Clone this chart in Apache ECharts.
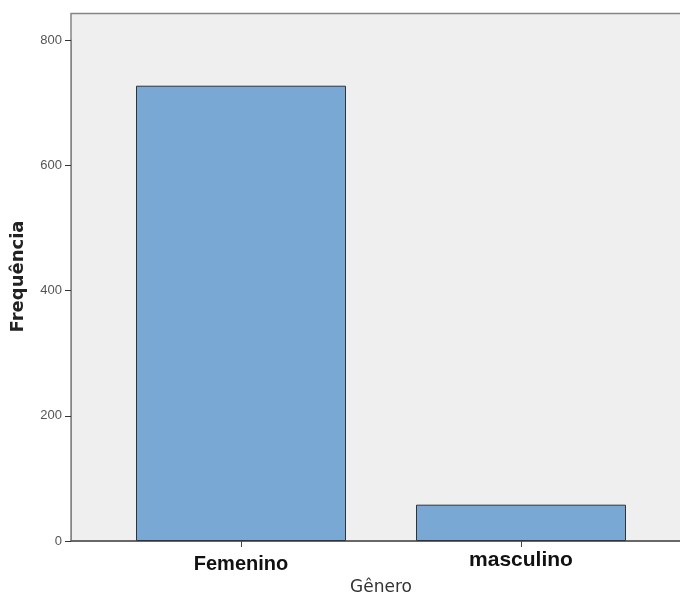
<!DOCTYPE html>
<html><head><meta charset="utf-8">
<script src="https://cdn.jsdelivr.net/npm/echarts@6/dist/echarts.min.js"></script>
<style>html,body{margin:0;padding:0;background:#fff}#c{width:680px;height:594px}</style>
</head><body><div id="c"></div>
<script>
const categories = ['Femenino', 'masculino'];
const frequencies = [727, 58];
const yTicks = [0, 200, 400, 600, 800];

const chart = echarts.init(document.getElementById('c'), null, {renderer: 'canvas'});
chart.setOption({
  animation: false,
  grid: [
    {left: 71, top: 13.5, right: -4, bottom: 53, show: true, backgroundColor: '#efefef', borderColor: '#858585', borderWidth: 1.5, containLabel: false, outerBoundsMode: 'none'},
    {left: 101, width: 560, top: 40, bottom: 53, containLabel: false, outerBoundsMode: 'none'}
  ],
  xAxis: [
    {gridIndex: 0, type: 'value', min: 0, max: 1, axisLine: {show: true, onZero: false, lineStyle: {color: '#555', width: 1.5}},
     axisTick: {show: false}, axisLabel: {show: false}, splitLine: {show: false}},
    {gridIndex: 1, type: 'category', data: categories,
     axisLine: {show: false},
     axisTick: {show: true, alignWithLabel: true, length: 6, lineStyle: {color: '#444'}},
     axisLabel: {margin: 9, color: '#111',
       formatter: function (v, i) { return i === 0 ? '{a|' + v + '}' : '{b|' + v + '}'; },
       rich: {
         a: {fontFamily: 'Liberation Sans, Arial, sans-serif', fontSize: 20, fontWeight: 'bold', color: '#111', padding: [4, 0, 0, 0]},
         b: {fontFamily: 'Liberation Sans, Arial, sans-serif', fontSize: 21, fontWeight: 'bold', color: '#111'}
       }},
     name: 'Gênero', nameLocation: 'middle', nameGap: 35,
     nameTextStyle: {color: '#333', fontFamily: 'DejaVu Sans, sans-serif', fontSize: 17, verticalAlign: 'top'}}
  ],
  yAxis: [
    {gridIndex: 0, type: 'value', show: false, min: 0, max: 1},
    {gridIndex: 1, type: 'value', min: yTicks[0], max: yTicks[yTicks.length - 1], interval: 200, offset: 30,
     axisLine: {show: true, lineStyle: {color: '#858585', width: 1}},
     axisTick: {show: true, length: 6, lineStyle: {color: '#333'}},
     splitLine: {show: false},
     axisLabel: {margin: 9, color: '#555', fontFamily: 'Liberation Sans, Arial, sans-serif', fontSize: 13},
     name: 'Frequência', nameLocation: 'middle', nameGap: 44, nameRotate: 90,
     nameTextStyle: {color: '#222', fontFamily: 'DejaVu Sans, sans-serif', fontSize: 18, fontWeight: 'bold', padding: [0, 0, 0, 28]}}
  ],
  series: [{
    type: 'bar', xAxisIndex: 1, yAxisIndex: 1, data: frequencies, barWidth: '75%',
    itemStyle: {color: '#7aa8d5', borderColor: '#333', borderWidth: 1}
  }]
});
</script></body></html>
